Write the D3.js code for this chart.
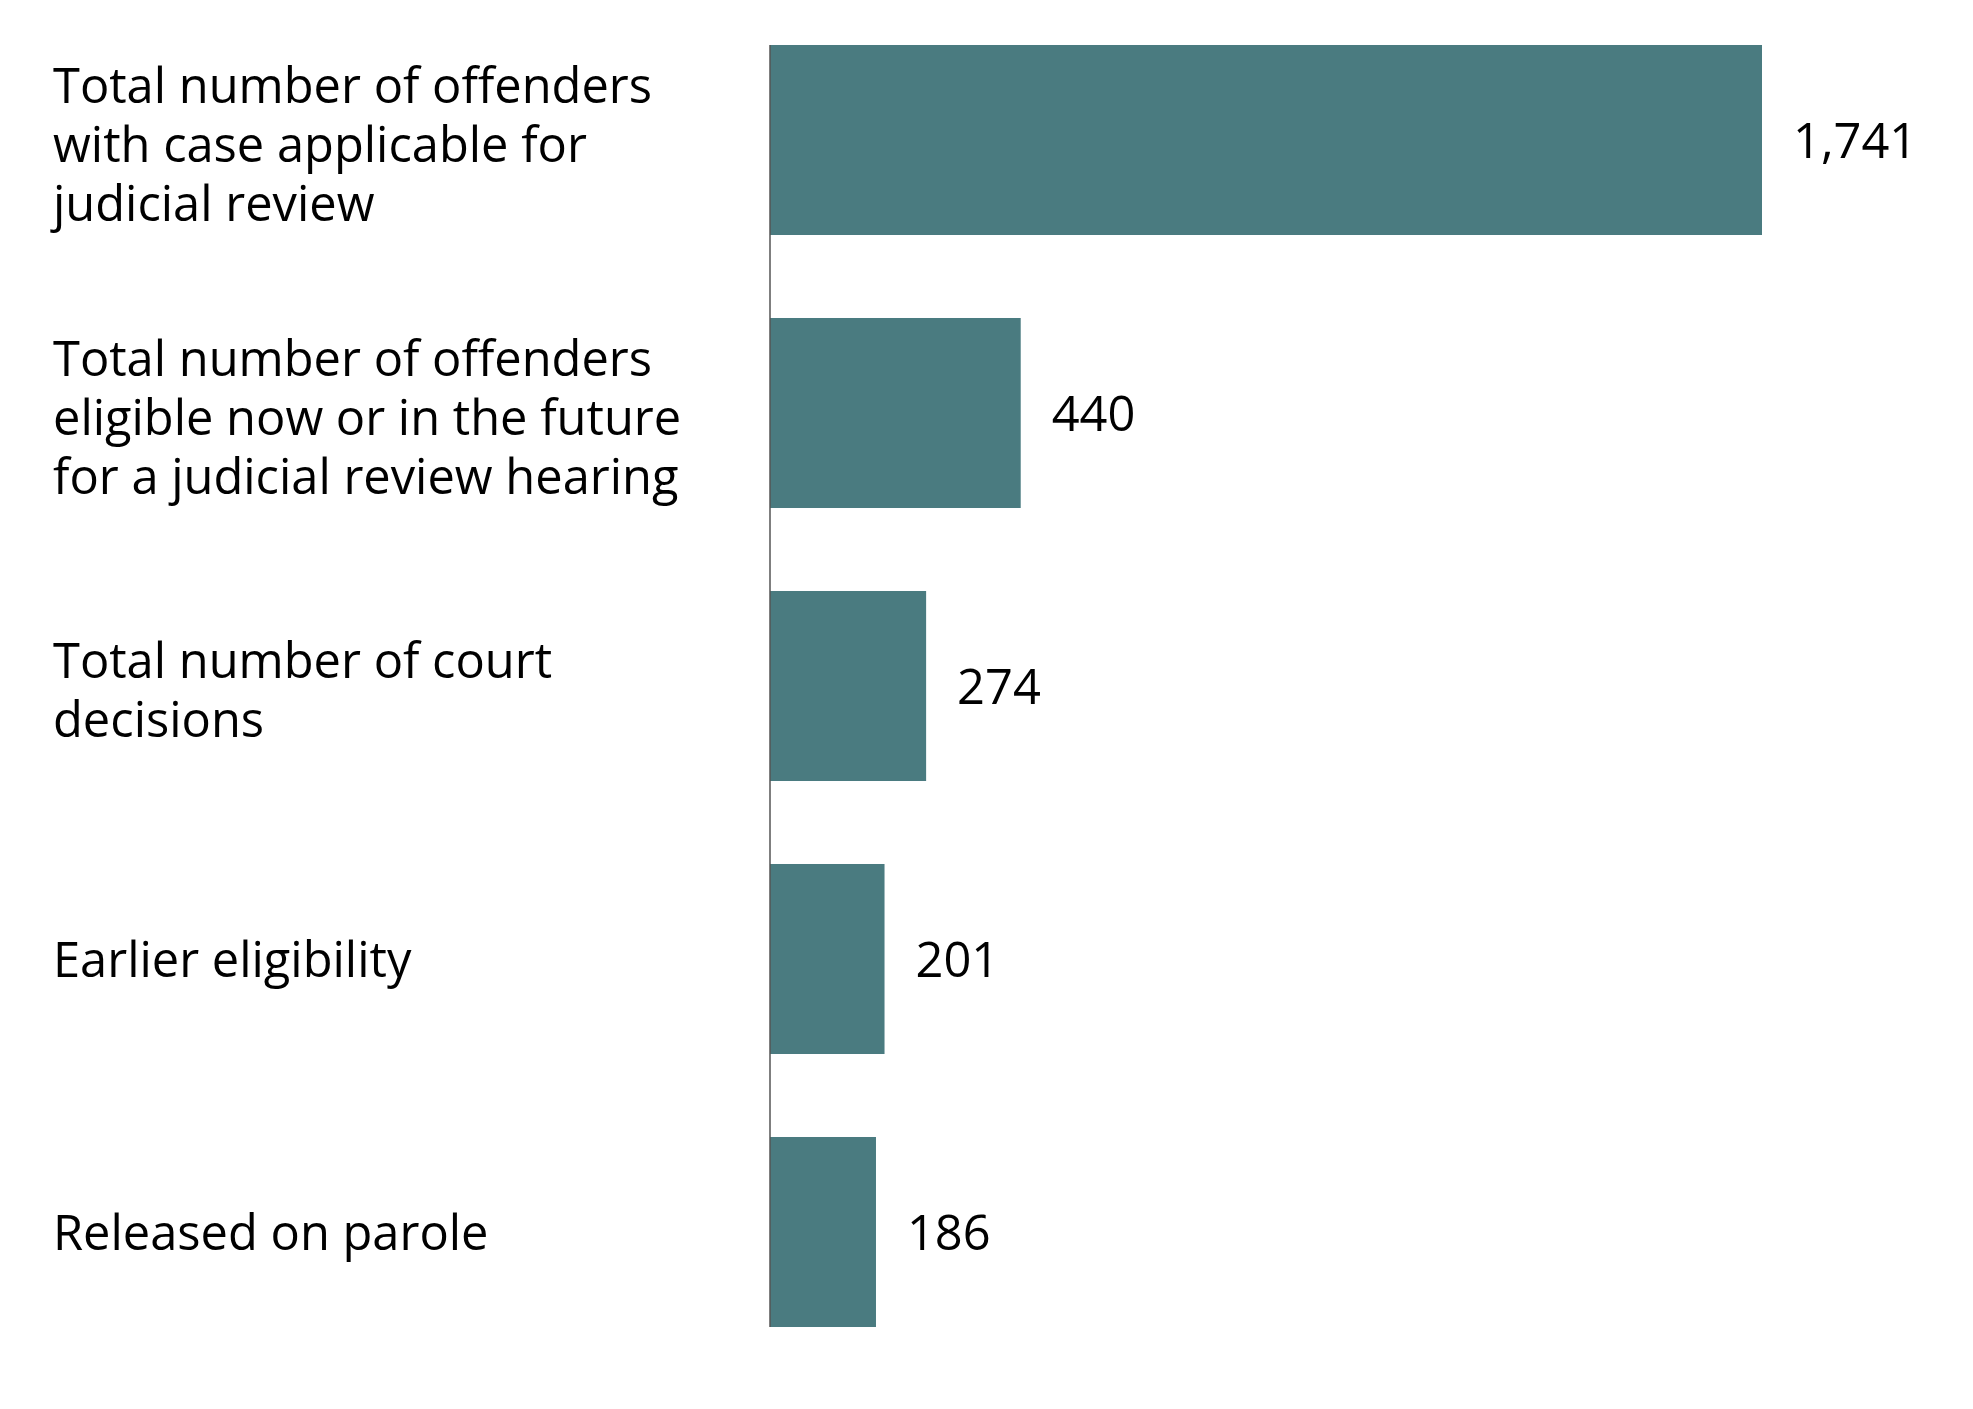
<!DOCTYPE html>
<html>
<head>
<meta charset="utf-8">
<script src="https://cdn.jsdelivr.net/npm/d3@7"></script>
<style>
  html, body { margin: 0; padding: 0; background: #ffffff; }
  svg { display: block; }
</style>
</head>
<body>
<svg id="chart" width="1973" height="1409"></svg>
<script>
// ---- data ----
const categories = [
  "Total number of offenders with case applicable for judicial review",
  "Total number of offenders eligible now or in the future for a judicial review hearing",
  "Total number of court decisions",
  "Earlier eligibility",
  "Released on parole"
];
const labelLines = [
  ["Total number of offenders", "with case applicable for", "judicial review"],
  ["Total number of offenders", "eligible now or in the future", "for a judicial review hearing"],
  ["Total number of court", "decisions"],
  ["Earlier eligibility"],
  ["Released on parole"]
];
const values = [1741, 440, 274, 201, 186];

// ---- layout ----
const W = 1973, H = 1409;
const axisX = 770;
const barColor = "#4a7b80";
const fontFamily = "'Open Sans', 'Noto Sans', sans-serif";
const fontSize = 48.8;
const lineHeight = 59;

const svg = d3.select("#chart");

const x = d3.scaleLinear().domain([0, 1741]).range([axisX, 1762]);
const y = d3.scaleBand().domain(categories).range([3.5, 1368.5])
  .paddingInner(0.304).paddingOuter(0.152);

// bars
svg.append("g").selectAll("rect")
  .data(values)
  .join("rect")
  .attr("x", x(0))
  .attr("y", (d, i) => y(categories[i]))
  .attr("width", d => x(d) - x(0))
  .attr("height", y.bandwidth())
  .attr("fill", barColor);

// axis line (left)
const yAxis = d3.axisLeft(y).tickSize(0).tickFormat("");
const axisG = svg.append("g").attr("transform", `translate(${axisX},0)`).call(yAxis);
axisG.select(".domain")
  .attr("stroke", "#555555")
  .attr("stroke-width", 1.5)
  .attr("d", `M0,${y(categories[0])}V${y(categories[categories.length-1]) + y.bandwidth()}`);

// value labels
const fmt = d3.format(",");
svg.append("g").selectAll("text")
  .data(values)
  .join("text")
  .attr("x", d => x(d) + 31)
  .attr("y", (d, i) => y(categories[i]) + y.bandwidth() / 2)
  .attr("dy", "0.37em")
  .attr("font-family", fontFamily)
  .attr("font-size", fontSize)
  .attr("fill", "#000")
  .text(d => fmt(d));

// category labels
const lab = svg.append("g").selectAll("text")
  .data(categories)
  .join("text")
  .attr("font-family", fontFamily)
  .attr("font-size", fontSize)
  .attr("fill", "#000")
  .attr("x", 53)
  .attr("y", d => y(d) + y.bandwidth() / 2);

lab.each(function(d, i) {
  const lines = labelLines[i];
  const n = lines.length;
  const shift = n > 1 ? 3.5 : 0;
  d3.select(this).selectAll("tspan")
    .data(lines)
    .join("tspan")
    .attr("x", 53)
    .attr("y", (l, j) => y(d) + y.bandwidth() / 2 + shift + (j - (n - 1) / 2) * lineHeight)
    .attr("dy", "0.37em")
    .text(l => l);
});
</script>
</body>
</html>
